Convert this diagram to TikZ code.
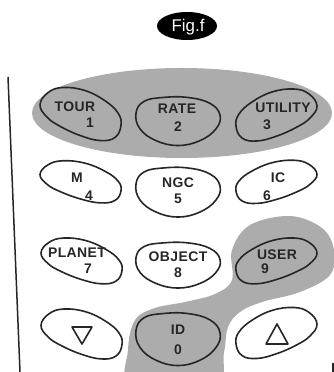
\documentclass[tikz,border=0pt]{standalone}
\usepackage{fontspec}
\setmainfont{Liberation Sans}
\newfontfamily\keyfont[LetterSpace=3,UprightFont=* Bold]{Liberation Sans}
\definecolor{padgray}{RGB}{172,172,172}
% key outlines, centred at #1, squashed by #2
\newcommand\leftkey[2]{\draw [keyline,shift={(#1)},yscale=#2] plot [smooth cycle,tension=0.7] coordinates
  {(-40bp,8bp) (-32bp,20bp) (-17bp,25bp) (5bp,22bp) (25bp,12bp) (38bp,0bp) (41bp,-12bp) (35bp,-24bp) (20bp,-27bp) (0bp,-22bp) (-20bp,-13bp) (-33bp,-4bp)};}
\newcommand\rightkey[2]{\draw [keyline,shift={(#1)},yscale=#2,xscale=-1] plot [smooth cycle,tension=0.7] coordinates
  {(-40bp,8bp) (-32bp,20bp) (-17bp,25bp) (5bp,22bp) (25bp,12bp) (38bp,0bp) (41bp,-12bp) (35bp,-24bp) (20bp,-27bp) (0bp,-22bp) (-20bp,-13bp) (-33bp,-4bp)};}
\newcommand\midkey[2]{\draw [keyline,shift={(#1)},yscale=#2] plot [smooth cycle,tension=0.7] coordinates
  {(-42bp,8bp) (-34bp,20bp) (-15bp,24bp) (10bp,24bp) (32bp,18bp) (42bp,6bp) (38bp,-8bp) (22bp,-20bp) (0bp,-25bp) (-22bp,-20bp) (-38bp,-8bp)};}
\begin{document}
\begin{tikzpicture}[line join=round,
  keyline/.style={draw=black!85,line width=1.6bp},
  keytext/.style={font=\keyfont\fontsize{14}{14}\selectfont,text=black!85,inner sep=0pt},
  arrowkey/.style={draw=black!85,line width=1.6bp}]
\useasboundingbox (0bp,0bp) rectangle (334bp,372bp);
\clip (0bp,0bp) rectangle (334bp,372bp);
%% title
\fill [black] (187bp,346bp) ellipse [x radius=30bp,y radius=14bp];
\node (title) at (188bp,345bp) [text=white,font=\fontsize{17}{17}\selectfont,inner sep=0pt] {Fig.f};
%% keypad edges
\draw [line width=1.5bp,black!85] (8bp,295bp) -- (20bp,0bp);
\draw [line width=1.5bp,black!85] (333bp,9bp) -- (333bp,0bp);
%% shaded groups
\fill [padgray] (182bp,259bp) ellipse [x radius=150bp,y radius=45bp];
\fill [padgray] plot [smooth cycle,tension=0.6] coordinates
  {(290bp,156bp) (322bp,144bp) (334bp,122bp) (330bp,97bp) (300bp,80bp) (262bp,70bp) (240bp,60bp) (228bp,45bp)
   (224bp,20bp) (214bp,-15bp) (132bp,-15bp) (128bp,22bp) (135bp,52bp) (155bp,64bp) (185bp,70bp) (215bp,78bp)
   (232bp,92bp) (232bp,122bp) (250bp,147bp)};
%% keys
\leftkey{80bp,259bp}{1.02}
\midkey{178bp,251bp}{0.98}
\rightkey{277bp,258bp}{1.0}
\leftkey{80bp,191bp}{0.81}
\midkey{178bp,180bp}{1.0}
\rightkey{277bp,191bp}{0.83}
\leftkey{81bp,112bp}{0.88}
\midkey{178bp,107bp}{0.92}
\rightkey{277bp,112bp}{0.88}
\leftkey{81bp,39bp}{0.96}
\midkey{178bp,33bp}{1.06}
\rightkey{277bp,40bp}{0.98}
%% labels
\node (tour) at (75bp,265bp) [keytext] {TOUR};
  \node (one) at (90bp,249bp) [keytext] {1};
\node (rate) at (177bp,263bp) [keytext] {RATE};
  \node (two) at (178bp,245bp) [keytext] {2};
\node (utility) at (283bp,264bp) [keytext] {UTILITY};
  \node (three) at (267bp,247bp) [keytext] {3};
\node (messier) at (77bp,194bp) [keytext] {M};
  \node (four) at (89bp,176bp) [keytext] {4};
\node (ngc) at (178bp,189bp) [keytext] {NGC};
  \node (five) at (178bp,173bp) [keytext] {5};
\node (ic) at (278bp,194bp) [keytext] {IC};
  \node (six) at (267bp,176bp) [keytext] {6};
\node (planet) at (77bp,119bp) [keytext] {PLANET};
  \node (seven) at (88bp,103bp) [keytext] {7};
\node (object) at (178bp,115bp) [keytext] {OBJECT};
  \node (eight) at (178bp,99bp) [keytext] {8};
\node (user) at (277bp,117bp) [keytext] {USER};
  \node (nine) at (265bp,103bp) [keytext] {9};
\node (id) at (178bp,42bp) [keytext] {ID};
  \node (zero) at (178bp,22bp) [keytext] {0};
%% scroll arrows
\draw [arrowkey] (72bp,45bp) -- (92bp,45bp) -- (82bp,28bp) -- cycle;
\draw [arrowkey] (266bp,28bp) -- (288bp,28bp) -- (277bp,48bp) -- cycle;
%
\end{tikzpicture}
\end{document}
